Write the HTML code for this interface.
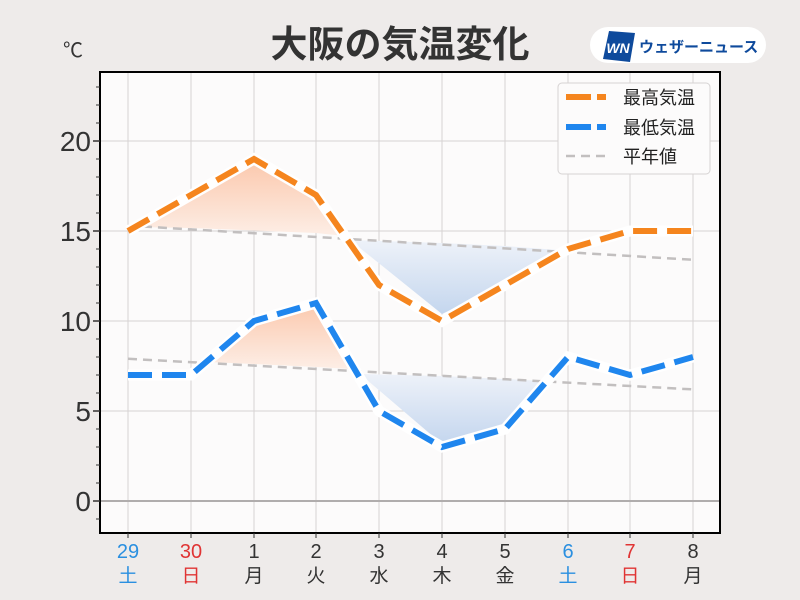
<!DOCTYPE html>
<html><head><meta charset="utf-8"><style>
html,body{margin:0;padding:0;width:800px;height:600px;background:#eeebea;overflow:hidden}
svg{display:block}
text{font-family:"Liberation Sans","Noto Sans CJK JP",sans-serif}
</style></head><body>
<svg width="800" height="600" viewBox="0 0 800 600">
<defs>
<linearGradient id="og" x1="0" y1="0" x2="0" y2="1"><stop offset="0" stop-color="#fbc9ae"/><stop offset="1" stop-color="#fdeee6"/></linearGradient>
<linearGradient id="bg" x1="0" y1="0" x2="0" y2="1"><stop offset="0" stop-color="#eef2f9"/><stop offset="1" stop-color="#c4d6ee"/></linearGradient>
</defs>
<rect x="100" y="72" width="620" height="461" fill="#fcfbfb"/>
<g stroke="#d6d3d3" stroke-width="1">
<line x1="128" y1="72" x2="128" y2="533"/><line x1="191" y1="72" x2="191" y2="533"/><line x1="254" y1="72" x2="254" y2="533"/><line x1="316" y1="72" x2="316" y2="533"/><line x1="379" y1="72" x2="379" y2="533"/><line x1="442" y1="72" x2="442" y2="533"/><line x1="505" y1="72" x2="505" y2="533"/><line x1="568" y1="72" x2="568" y2="533"/><line x1="630" y1="72" x2="630" y2="533"/><line x1="693" y1="72" x2="693" y2="533"/>
<line x1="100" y1="141" x2="720" y2="141"/><line x1="100" y1="231" x2="720" y2="231"/><line x1="100" y1="321" x2="720" y2="321"/><line x1="100" y1="411" x2="720" y2="411"/>
</g>
<line x1="100" y1="501" x2="720" y2="501" stroke="#b0adad" stroke-width="2"/>
<polygon points="134,227 191,195 254,162 312,196 345,236 316,233 191,228" fill="url(#og)"/>
<polygon points="350,240 442,243 505,246 558,250 505,284 442,314" fill="url(#bg)"/>
<polygon points="208,362 254,323 316,304 352,369 316,367 254,364" fill="url(#og)"/>
<polygon points="360,374 442,376 505,379 543,381 505,425 442,444" fill="url(#bg)"/>
<g stroke="#c2bfbf" stroke-width="2.5" stroke-dasharray="9,6" fill="none">
<line x1="128" y1="225.6" x2="693" y2="259.8"/>
<line x1="128" y1="358.8" x2="693" y2="389.4"/>
</g>
<g fill="none" stroke-linejoin="miter">
<polyline points="128,231 191,195 254,159 316,195 379,285 442,321 505,285 568,249 630,231 693,231" stroke="#fff" stroke-width="11"/>
<polyline points="128,231 191,195 254,159 316,195 379,285 442,321 505,285 568,249 630,231 693,231" stroke="#f5851e" stroke-width="6" stroke-dasharray="24,10"/>
<polyline points="128,375 191,375 254,321 316,303 379,411 442,447 505,429 568,357 630,375 693,357" stroke="#fff" stroke-width="11"/>
<polyline points="128,375 191,375 254,321 316,303 379,411 442,447 505,429 568,357 630,375 693,357" stroke="#1f86ee" stroke-width="6" stroke-dasharray="24,10"/>
</g>
<rect x="100" y="72" width="620" height="461" fill="none" stroke="#000" stroke-width="2"/>
<g stroke="#333" stroke-width="1">
<path d="M96 87h4M96 105h4M96 123h4M96 159h4M96 177h4M96 195h4M96 213h4M96 249h4M96 267h4M96 285h4M96 303h4M96 339h4M96 357h4M96 375h4M96 393h4M96 429h4M96 447h4M96 465h4M96 483h4M96 519h4"/>
<path d="M93 141h7M93 231h7M93 321h7M93 411h7M93 501h7" stroke-width="1.5"/>
<path d="M128 533v5M191 533v5M254 533v5M316 533v5M379 533v5M442 533v5M505 533v5M568 533v5M630 533v5M693 533v5"/>
</g>
<g font-size="28" fill="#333" text-anchor="end">
<text x="91" y="151">20</text><text x="91" y="241">15</text><text x="91" y="331">10</text><text x="91" y="421">5</text><text x="91" y="511">0</text>
</g>
<text x="63" y="57" font-size="20" fill="#333">℃</text>
<text x="400" y="57" font-size="37" font-weight="bold" fill="#333" text-anchor="middle">大阪の気温変化</text>
<rect x="590" y="27" width="176" height="36" rx="18" fill="#fff"/>
<polygon points="609,31 635,33 630,62 603,59" fill="#0e4a9c"/>
<text x="618" y="53" font-size="14" font-weight="bold" fill="#fff" text-anchor="middle" font-style="italic">WN</text>
<text x="639" y="52" font-size="15" font-weight="bold" fill="#0e4a9c">ウェザーニュース</text>
<rect x="558" y="83" width="152" height="91" rx="4" fill="#fcfbfb" stroke="#d6d3d3"/>
<path d="M566 97h25M597 97h9" stroke="#f5851e" stroke-width="6"/>
<path d="M566 127h25M597 127h9" stroke="#1f86ee" stroke-width="6"/>
<path d="M566 156h40" stroke="#c2bfbf" stroke-width="2.5" stroke-dasharray="9,6"/>
<g font-size="18" fill="#222"><text x="623" y="104">最高気温</text><text x="623" y="134">最低気温</text><text x="623" y="163">平年値</text></g>
<g font-size="20" text-anchor="middle" fill="#333">
<text x="128" y="558" fill="#2a8fe0">29</text><text x="191" y="558" fill="#e03434">30</text><text x="254" y="558">1</text><text x="316" y="558">2</text><text x="379" y="558">3</text><text x="442" y="558">4</text><text x="505" y="558">5</text><text x="568" y="558" fill="#2a8fe0">6</text><text x="630" y="558" fill="#e03434">7</text><text x="693" y="558">8</text>
</g>
<g font-size="19" text-anchor="middle" fill="#333">
<text x="128" y="582" fill="#2a8fe0">土</text><text x="191" y="582" fill="#e03434">日</text><text x="254" y="582">月</text><text x="316" y="582">火</text><text x="379" y="582">水</text><text x="442" y="582">木</text><text x="505" y="582">金</text><text x="568" y="582" fill="#2a8fe0">土</text><text x="630" y="582" fill="#e03434">日</text><text x="693" y="582">月</text>
</g>
</svg>
</body></html>
